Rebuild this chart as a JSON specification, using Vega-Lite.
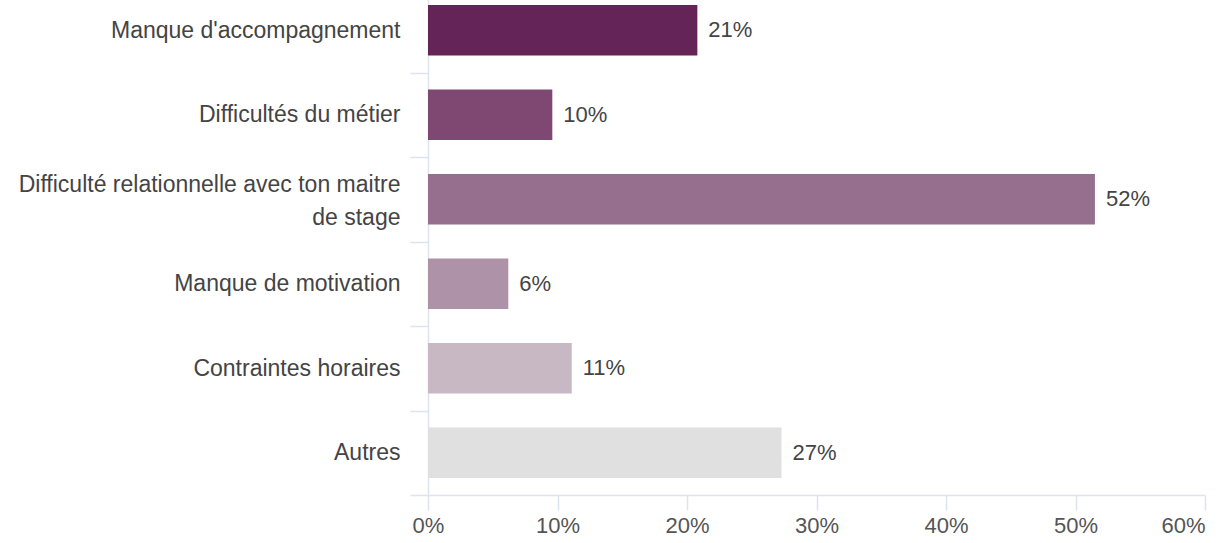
{
  "$schema": "https://vega.github.io/schema/vega-lite/v6.json",
  "width": 777,
  "height": 495,
  "autosize": {"type": "none"},
  "padding": {"left": 428, "top": 0, "right": 22, "bottom": 48},
  "background": "white",
  "config": {"view": {"stroke": null}, "font": "Liberation Sans"},
  "data": {
    "values": [
      {"category": "Manque d'accompagnement", "value": 0.208},
      {"category": "Difficultés du métier", "value": 0.096},
      {"category": "Difficulté relationnelle avec ton maitre de stage", "value": 0.515},
      {"category": "Manque de motivation", "value": 0.062},
      {"category": "Contraintes horaires", "value": 0.111},
      {"category": "Autres", "value": 0.273}
    ]
  },
  "encoding": {
    "y": {
      "field": "category",
      "type": "nominal",
      "sort": null,
      "scale": {"range": [-12, 495], "paddingInner": 0, "paddingOuter": 0},
      "axis": {
        "title": null,
        "tickBand": "extent",
        "tickSize": 18,
        "tickWidth": 1.5,
        "tickColor": "#dde3f1",
        "domainColor": "#dde3f1",
        "domainWidth": 1.5,
        "labelFontSize": 23,
        "labelColor": "#444444",
        "labelPadding": 10,
        "labelLimit": 0,
        "labelLineHeight": 33,
        "labelOffset": {"condition": {"test": "datum.value == 'Difficulté relationnelle avec ton maitre de stage'", "value": -15}, "value": 0},
        "labelExpr": "datum.label == 'Difficulté relationnelle avec ton maitre de stage' ? ['Difficulté relationnelle avec ton maitre', 'de stage'] : datum.label",
        "grid": false
      }
    }
  },
  "layer": [
    {
      "mark": {"type": "bar", "height": {"band": 0.6}},
      "encoding": {
        "x": {
          "field": "value",
          "type": "quantitative",
          "scale": {"domain": [0, 0.6], "nice": false},
          "axis": {
            "title": null,
            "values": [0, 0.1, 0.2, 0.3, 0.4, 0.5, 0.6],
            "format": ".0%",
            "tickSize": 15,
            "tickWidth": 1.5,
            "tickColor": "#dde3f1",
            "domainColor": "#dde3f1",
            "domainWidth": 1.5,
            "labelFontSize": 22,
            "labelColor": "#555555",
            "labelPadding": 5,
            "labelFlush": false,
            "labelAlign": {"condition": {"test": "datum.value >= 0.6", "value": "right"}, "value": "center"},
            "grid": false
          }
        },
        "color": {
          "field": "category",
          "type": "nominal",
          "legend": null,
          "scale": {
            "domain": ["Manque d'accompagnement", "Difficultés du métier", "Difficulté relationnelle avec ton maitre de stage", "Manque de motivation", "Contraintes horaires", "Autres"],
            "range": ["#652457", "#7f4873", "#956f8d", "#ad92a8", "#c8b8c4", "#e0e0e0"]
          }
        }
      }
    },
    {
      "mark": {"type": "text", "align": "left", "baseline": "middle", "dx": 11, "fontSize": 22, "color": "#444444"},
      "encoding": {
        "x": {"field": "value", "type": "quantitative"},
        "text": {"field": "value", "type": "quantitative", "format": ".0%"}
      }
    }
  ]
}
